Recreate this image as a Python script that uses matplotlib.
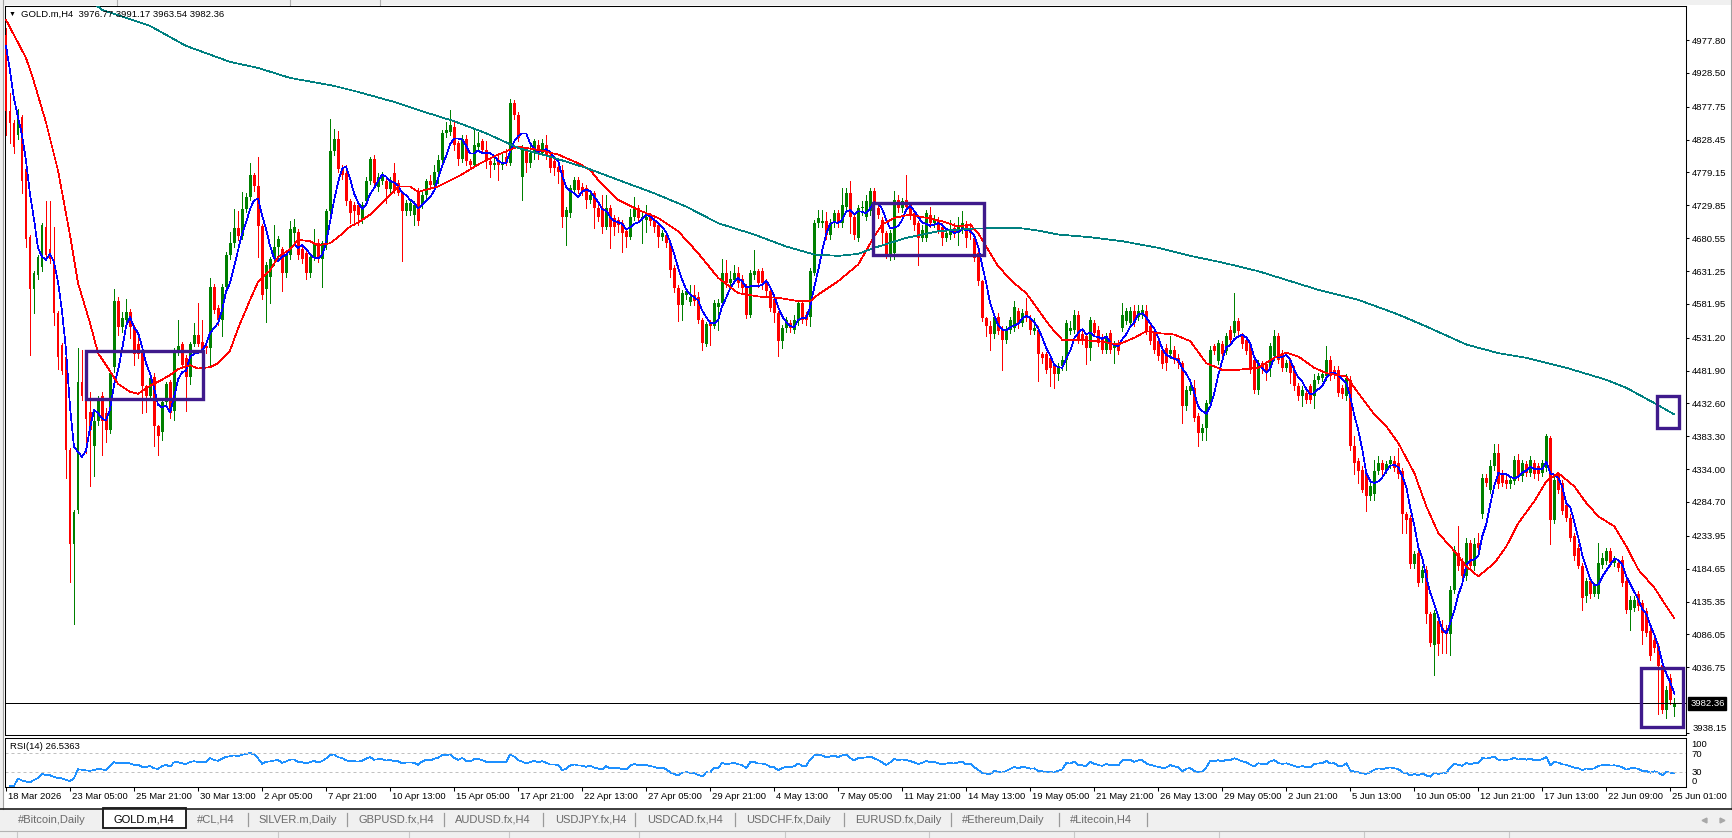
import numpy as np
import pandas as pd
import matplotlib
matplotlib.use("Agg")
import matplotlib.pyplot as plt
from matplotlib.patches import Rectangle

plt.rcParams['font.family'] = ['Liberation Sans', 'DejaVu Sans']

symbol_header = "GOLD.m,H4  3976.77 3991.17 3963.54 3982.36"
rsi_header = "RSI(14) 26.5363"
last_price = 3982.36

# H4 candles (oldest first)
opens = [4985, 4872, 4854, 4836, 4863, 4785, 4682, 4604, 4625, 4637,
         4698, 4664, 4646, 4568, 4520, 4502, 4363, 4221, 4272, 4464,
         4444, 4420, 4369, 4406, 4444, 4418, 4392, 4487, 4587, 4547,
         4558, 4570, 4547, 4521, 4510, 4458, 4444, 4472, 4398, 4390,
         4435, 4464, 4421, 4510, 4521, 4501, 4472, 4521, 4535, 4524,
         4518, 4515, 4607, 4576, 4558, 4607, 4656, 4673, 4696, 4684,
         4725, 4742, 4776, 4759, 4699, 4604, 4622, 4649, 4667, 4664,
         4628, 4655, 4688, 4690, 4664, 4658, 4628, 4652, 4673, 4649,
         4673, 4722, 4812, 4830, 4785, 4779, 4737, 4730, 4730, 4710,
         4737, 4767, 4800, 4758, 4767, 4767, 4755, 4779, 4764, 4749,
         4722, 4722, 4716, 4752, 4730, 4745, 4766, 4760, 4780, 4798,
         4838, 4840, 4848, 4823, 4800, 4830, 4796, 4791, 4818, 4826,
         4813, 4796, 4791, 4796, 4791, 4803, 4793, 4883, 4866, 4773,
         4811, 4793, 4808, 4820, 4808, 4820, 4806, 4796, 4788, 4783,
         4713, 4718, 4753, 4768, 4758, 4756, 4738, 4748, 4726, 4726,
         4698, 4726, 4711, 4708, 4703, 4691, 4683, 4713, 4726, 4711,
         4708, 4713, 4708, 4700, 4683, 4686, 4673, 4636, 4606, 4581,
         4596, 4585, 4596, 4593, 4558, 4521, 4553, 4548, 4578, 4583,
         4628, 4613, 4618, 4628, 4620, 4608, 4566, 4626, 4631, 4631,
         4616, 4601, 4590, 4568, 4526, 4546, 4553, 4543, 4556, 4583,
         4565, 4563, 4628, 4703, 4703, 4706, 4686, 4703, 4718, 4703,
         4728, 4748, 4713, 4681, 4726, 4713, 4721, 4751, 4726, 4708,
         4688, 4653, 4658, 4738, 4726, 4738, 4731, 4718, 4703, 4681,
         4681, 4716, 4703, 4708, 4698, 4681, 4686, 4696, 4688, 4693,
         4701, 4693, 4681, 4658, 4616, 4561, 4548, 4536, 4563, 4543,
         4528, 4543, 4546, 4571, 4553, 4571, 4561, 4541, 4543, 4506,
         4506, 4501, 4488, 4476, 4488, 4498, 4541, 4543, 4566, 4536,
         4533, 4516, 4553, 4543, 4531, 4513, 4538, 4516, 4523, 4546,
         4556, 4553, 4571, 4563, 4566, 4571, 4548, 4541, 4526, 4513,
         4516, 4506, 4513, 4501, 4493, 4428, 4451, 4455, 4413, 4388,
         4396, 4431, 4518, 4496, 4521, 4511, 4543, 4538, 4556, 4533,
         4528, 4521, 4498, 4453, 4493, 4491, 4486, 4503, 4533, 4508,
         4486, 4496, 4483, 4458, 4443, 4448, 4458, 4443, 4468, 4471,
         4473, 4498, 4483, 4483, 4455, 4443, 4468, 4368, 4346, 4333,
         4328, 4293, 4296, 4331, 4343, 4333, 4341, 4346, 4343, 4331,
         4266, 4261, 4191, 4208, 4170, 4183, 4116, 4070, 4106, 4095,
         4093, 4086, 4153, 4208, 4196, 4173, 4223, 4188, 4223, 4266,
         4321, 4303, 4338, 4358, 4328, 4318, 4311, 4316, 4348, 4323,
         4341, 4328, 4343, 4338, 4328, 4336, 4381, 4258, 4325, 4313,
         4280, 4261, 4233, 4216, 4188, 4143, 4166, 4146, 4146, 4190,
         4196, 4211, 4193, 4193, 4198, 4166, 4123, 4126, 4146, 4133,
         4121, 4091, 4078, 4068, 4040, 3973, 4021, 3976.77]

highs = [4996, 4899, 4858, 4875, 4866, 4788, 4685, 4632, 4655, 4704,
         4737, 4737, 4698, 4571, 4523, 4505, 4366, 4273, 4515, 4512,
         4449, 4449, 4421, 4444, 4449, 4425, 4483, 4604, 4592, 4570,
         4590, 4575, 4550, 4535, 4515, 4460, 4478, 4478, 4400, 4440,
         4465, 4468, 4515, 4558, 4525, 4505, 4525, 4553, 4584, 4558,
         4522, 4621, 4612, 4580, 4612, 4660, 4690, 4725, 4722, 4750,
         4748, 4793, 4779, 4802, 4702, 4645, 4652, 4700, 4684, 4667,
         4660, 4707, 4710, 4695, 4668, 4662, 4656, 4694, 4680, 4676,
         4725, 4860, 4845, 4842, 4790, 4791, 4740, 4735, 4733, 4735,
         4772, 4803, 4805, 4778, 4780, 4772, 4772, 4794, 4768, 4752,
         4738, 4740, 4736, 4756, 4750, 4770, 4775, 4790, 4805, 4843,
         4855, 4873, 4855, 4826, 4835, 4835, 4800, 4843, 4840, 4830,
         4826, 4800, 4805, 4805, 4810, 4815, 4890, 4888, 4870, 4820,
         4816, 4820, 4830, 4828, 4830, 4836, 4812, 4800, 4795, 4790,
         4728, 4760, 4773, 4773, 4763, 4760, 4750, 4752, 4730, 4746,
         4745, 4730, 4715, 4713, 4708, 4695, 4725, 4743, 4730, 4720,
         4730, 4718, 4712, 4705, 4693, 4690, 4676, 4640, 4610, 4603,
         4605, 4610, 4610, 4600, 4560, 4555, 4557, 4588, 4590, 4650,
         4648, 4632, 4640, 4638, 4626, 4612, 4633, 4663, 4635, 4636,
         4620, 4605, 4595, 4572, 4550, 4562, 4558, 4565, 4588, 4588,
         4570, 4636, 4708, 4723, 4723, 4720, 4710, 4723, 4723, 4756,
         4756, 4766, 4716, 4731, 4736, 4745, 4756, 4756, 4733, 4712,
         4692, 4693, 4751, 4745, 4741, 4776, 4735, 4722, 4706, 4700,
         4723, 4728, 4715, 4713, 4703, 4693, 4708, 4703, 4713, 4721,
         4706, 4703, 4686, 4663, 4618, 4563, 4556, 4568, 4568, 4548,
         4548, 4563, 4586, 4576, 4574, 4591, 4565, 4561, 4548, 4510,
         4510, 4506, 4493, 4493, 4503, 4558, 4556, 4573, 4571, 4541,
         4538, 4563, 4558, 4548, 4536, 4538, 4543, 4526, 4528, 4583,
         4576, 4578, 4581, 4581, 4581, 4581, 4553, 4546, 4531, 4518,
         4521, 4533, 4518, 4506, 4496, 4458, 4463, 4468, 4418, 4401,
         4438, 4518, 4521, 4528, 4526, 4538, 4548, 4598, 4561, 4538,
         4533, 4525, 4503, 4498, 4496, 4496, 4523, 4543, 4538, 4513,
         4498, 4501, 4488, 4463, 4458, 4453, 4461, 4476, 4478, 4481,
         4518, 4503, 4488, 4488, 4460, 4476, 4473, 4383, 4351, 4338,
         4333, 4313, 4348, 4353, 4348, 4346, 4353, 4353, 4366, 4336,
         4270, 4265, 4211, 4218, 4188, 4188, 4120, 4123, 4111, 4108,
         4100, 4158, 4218, 4248, 4200, 4231, 4228, 4231, 4238, 4326,
         4326, 4348, 4371, 4371, 4333, 4323, 4323, 4353, 4356, 4348,
         4346, 4353, 4348, 4343, 4348, 4386, 4383, 4323, 4330, 4318,
         4285, 4266, 4238, 4221, 4193, 4171, 4171, 4163, 4223, 4208,
         4216, 4216, 4203, 4198, 4203, 4171, 4143, 4143, 4151, 4138,
         4126, 4095, 4083, 4073, 4043, 4008, 4026, 3991.17]

lows = [4836, 4824, 4809, 4830, 4749, 4667, 4505, 4568, 4620, 4632,
        4650, 4644, 4550, 4484, 4476, 4321, 4164, 4101, 4268, 4438,
        4358, 4309, 4323, 4400, 4355, 4375, 4388, 4480, 4535, 4540,
        4553, 4530, 4490, 4500, 4418, 4420, 4438, 4369, 4355, 4378,
        4430, 4410, 4407, 4505, 4485, 4421, 4461, 4518, 4518, 4508,
        4508, 4487, 4568, 4550, 4533, 4600, 4650, 4668, 4678, 4680,
        4720, 4738, 4752, 4653, 4590, 4555, 4583, 4640, 4650, 4601,
        4622, 4650, 4670, 4650, 4643, 4619, 4622, 4648, 4645, 4607,
        4665, 4718, 4805, 4780, 4770, 4730, 4704, 4700, 4700, 4704,
        4732, 4762, 4758, 4752, 4762, 4734, 4750, 4748, 4745, 4646,
        4716, 4716, 4700, 4700, 4726, 4740, 4755, 4755, 4763, 4795,
        4833, 4835, 4813, 4790, 4795, 4790, 4786, 4788, 4813, 4808,
        4786, 4773, 4785, 4768, 4785, 4790, 4790, 4860, 4826, 4738,
        4780, 4788, 4800, 4800, 4805, 4800, 4780, 4775, 4763, 4698,
        4670, 4713, 4750, 4748, 4745, 4726, 4733, 4696, 4706, 4688,
        4695, 4666, 4685, 4690, 4660, 4668, 4680, 4708, 4705, 4673,
        4690, 4700, 4690, 4668, 4678, 4668, 4623, 4600, 4556, 4558,
        4590, 4580, 4580, 4553, 4513, 4518, 4520, 4545, 4543, 4580,
        4608, 4605, 4613, 4608, 4600, 4561, 4562, 4620, 4608, 4605,
        4595, 4571, 4555, 4503, 4516, 4540, 4540, 4538, 4550, 4553,
        4550, 4548, 4625, 4698, 4698, 4680, 4680, 4698, 4698, 4698,
        4723, 4688, 4680, 4676, 4716, 4708, 4716, 4726, 4711, 4673,
        4651, 4648, 4650, 4720, 4720, 4723, 4710, 4693, 4641, 4676,
        4676, 4698, 4698, 4688, 4671, 4676, 4680, 4683, 4671, 4688,
        4668, 4680, 4646, 4610, 4556, 4533, 4513, 4530, 4536, 4483,
        4523, 4538, 4541, 4546, 4548, 4556, 4536, 4536, 4466, 4493,
        4478, 4458, 4456, 4468, 4483, 4483, 4536, 4538, 4523, 4521,
        4491, 4498, 4533, 4518, 4508, 4508, 4508, 4493, 4506, 4541,
        4551, 4548, 4548, 4558, 4561, 4536, 4521, 4508, 4498, 4486,
        4483, 4501, 4493, 4486, 4403, 4423, 4446, 4406, 4368, 4378,
        4378, 4428, 4506, 4491, 4501, 4506, 4523, 4533, 4536, 4516,
        4506, 4478, 4448, 4446, 4478, 4468, 4473, 4498, 4493, 4481,
        4481, 4463, 4453, 4438, 4428, 4433, 4433, 4426, 4463, 4466,
        4468, 4468, 4471, 4443, 4440, 4438, 4363, 4326, 4313, 4300,
        4271, 4288, 4288, 4326, 4326, 4328, 4336, 4331, 4321, 4238,
        4238, 4186, 4186, 4158, 4165, 4103, 4068, 4025, 4055, 4058,
        4058, 4055, 4148, 4183, 4168, 4168, 4183, 4183, 4211, 4261,
        4308, 4298, 4333, 4306, 4308, 4306, 4306, 4311, 4318, 4316,
        4323, 4323, 4321, 4318, 4323, 4331, 4221, 4253, 4298, 4266,
        4256, 4226, 4198, 4186, 4123, 4135, 4141, 4143, 4141, 4186,
        4191, 4188, 4188, 4181, 4158, 4118, 4093, 4121, 4123, 4071,
        4083, 4048, 4060, 3966, 3968, 3961, 3981, 3963.54]

closes = [4872, 4854, 4818, 4866, 4767, 4679, 4604, 4628, 4652, 4701,
          4655, 4649, 4568, 4502, 4481, 4363, 4221, 4270, 4464, 4444,
          4409, 4392, 4406, 4438, 4406, 4392, 4478, 4587, 4547, 4561,
          4570, 4547, 4507, 4507, 4458, 4444, 4470, 4398, 4384, 4435,
          4461, 4418, 4510, 4518, 4490, 4472, 4521, 4535, 4521, 4513,
          4515, 4607, 4573, 4558, 4607, 4656, 4673, 4696, 4684, 4725,
          4742, 4776, 4759, 4699, 4596, 4641, 4649, 4667, 4679, 4628,
          4655, 4694, 4698, 4655, 4649, 4628, 4652, 4673, 4649, 4673,
          4722, 4812, 4830, 4785, 4776, 4737, 4719, 4722, 4716, 4730,
          4767, 4800, 4764, 4773, 4773, 4755, 4767, 4752, 4749, 4722,
          4734, 4734, 4731, 4707, 4745, 4766, 4760, 4780, 4798, 4838,
          4843, 4850, 4820, 4800, 4830, 4796, 4791, 4820, 4823, 4813,
          4796, 4791, 4793, 4791, 4795, 4793, 4883, 4866, 4831, 4816,
          4793, 4808, 4826, 4808, 4823, 4806, 4786, 4786, 4780, 4713,
          4723, 4756, 4768, 4753, 4751, 4738, 4746, 4726, 4713, 4698,
          4726, 4698, 4698, 4701, 4688, 4683, 4713, 4726, 4711, 4713,
          4713, 4706, 4698, 4683, 4688, 4673, 4633, 4606, 4581, 4598,
          4601, 4593, 4586, 4558, 4523, 4551, 4548, 4583, 4583, 4628,
          4613, 4620, 4628, 4613, 4606, 4566, 4628, 4631, 4613, 4613,
          4601, 4576, 4568, 4526, 4546, 4558, 4546, 4558, 4583, 4558,
          4558, 4631, 4703, 4711, 4706, 4686, 4703, 4718, 4703, 4731,
          4748, 4713, 4686, 4726, 4728, 4736, 4751, 4731, 4716, 4688,
          4653, 4688, 4738, 4726, 4736, 4728, 4716, 4701, 4681, 4693,
          4718, 4703, 4708, 4693, 4681, 4688, 4693, 4688, 4698, 4703,
          4681, 4688, 4651, 4616, 4561, 4548, 4536, 4563, 4541, 4528,
          4543, 4558, 4578, 4553, 4569, 4561, 4543, 4546, 4506, 4501,
          4483, 4486, 4476, 4488, 4498, 4553, 4546, 4566, 4528, 4526,
          4516, 4558, 4538, 4523, 4513, 4533, 4513, 4521, 4511, 4566,
          4571, 4571, 4553, 4571, 4573, 4541, 4526, 4513, 4503, 4491,
          4493, 4513, 4498, 4493, 4428, 4453, 4458, 4411, 4388, 4396,
          4433, 4513, 4511, 4523, 4506, 4533, 4528, 4556, 4541, 4521,
          4511, 4483, 4453, 4493, 4486, 4478, 4518, 4533, 4498, 4486,
          4493, 4478, 4458, 4443, 4453, 4438, 4438, 4468, 4473, 4476,
          4498, 4473, 4476, 4448, 4446, 4471, 4368, 4343, 4331, 4303,
          4293, 4308, 4331, 4343, 4333, 4341, 4348, 4336, 4326, 4266,
          4258, 4191, 4206, 4163, 4183, 4116, 4073, 4118, 4071, 4088,
          4086, 4153, 4213, 4188, 4173, 4223, 4188, 4221, 4216, 4321,
          4313, 4338, 4358, 4311, 4313, 4311, 4318, 4348, 4323, 4343,
          4328, 4348, 4326, 4326, 4343, 4383, 4258, 4318, 4303, 4271,
          4261, 4231, 4203, 4188, 4141, 4166, 4146, 4158, 4193, 4201,
          4211, 4193, 4198, 4186, 4163, 4123, 4138, 4138, 4128, 4091,
          4088, 4053, 4066, 4038, 3973, 4003, 3988, 3982.36]

# blue fast MA: first bars (history before the window)
blue_ma_head = [4969, 4932, 4890, 4862]
blue_ma_period = 5

# red moving average, read at bar indices
red_ma_bar = [0, 5, 7, 10, 13, 16, 18, 21, 23, 26,
              28, 31, 33, 36, 38, 41, 43, 46, 48, 51,
              53, 56, 58, 61, 63, 66, 68, 71, 73, 76,
              78, 81, 83, 86, 88, 91, 93, 96, 98, 101,
              103, 108, 113, 118, 123, 128, 133, 138, 143, 146,
              148, 153, 158, 163, 168, 173, 178, 183, 188, 193,
              198, 201, 203, 208, 213, 217, 219, 222, 226, 230,
              234, 238, 241, 243, 246, 248, 252, 255, 258, 261,
              264, 268, 273, 278, 282, 285, 288, 292, 296, 300,
              304, 308, 313, 317, 320, 323, 327, 330, 335, 338,
              342, 345, 348, 352, 355, 358, 362, 365, 368, 372,
              375, 378, 382, 385, 388, 392, 395, 398, 402, 405,
              408, 412, 415, 417]
red_ma_val = [5008, 4951, 4915, 4854, 4782, 4685, 4613, 4553, 4508, 4481,
              4462, 4450, 4447, 4459, 4465, 4475, 4484, 4490, 4485, 4487,
              4493, 4512, 4545, 4588, 4615, 4632, 4652, 4664, 4678, 4676,
              4670, 4673, 4682, 4698, 4704, 4716, 4728, 4746, 4758, 4758,
              4750, 4758, 4773, 4791, 4806, 4818, 4813, 4806, 4793, 4783,
              4768, 4738, 4723, 4711, 4691, 4658, 4621, 4598, 4593, 4591,
              4586, 4586, 4596, 4616, 4641, 4683, 4701, 4711, 4716, 4711,
              4706, 4698, 4701, 4688, 4658, 4638, 4613, 4598, 4573, 4548,
              4528, 4528, 4526, 4521, 4531, 4541, 4538, 4536, 4526, 4493,
              4483, 4483, 4486, 4501, 4509, 4503, 4486, 4478, 4473, 4448,
              4416, 4398, 4373, 4328, 4278, 4238, 4211, 4188, 4173, 4193,
              4218, 4253, 4286, 4316, 4328, 4308, 4283, 4263, 4248, 4218,
              4183, 4156, 4128, 4110]

# teal long moving average, read at bar indices
teal_ma_bar = [21, 24, 36, 45, 56, 63, 71, 82, 88, 97,
               104, 112, 120, 128, 137, 145, 153, 162, 170, 178,
               187, 195, 202, 208, 213, 217, 225, 233, 242, 253,
               258, 263, 271, 279, 288, 296, 304, 313, 328, 338,
               348, 355, 365, 373, 380, 390, 400, 405, 412, 417]
teal_ma_val = [5038, 5023, 4999, 4969, 4945, 4936, 4921, 4909, 4900, 4885,
               4871, 4856, 4838, 4816, 4801, 4786, 4768, 4748, 4728, 4703,
               4686, 4668, 4656, 4654, 4657, 4666, 4681, 4691, 4695, 4696,
               4692, 4686, 4682, 4676, 4666, 4654, 4644, 4631, 4603, 4588,
               4566, 4548, 4521, 4508, 4501, 4486, 4468, 4456, 4433, 4416]

# highlight rectangles drawn on the chart (bar from, bar to, price low, price high)
highlight_from = [20.0, 216.8, 412.7, 408.7]
highlight_to = [49.2, 244.5, 418.1, 419.1]
highlight_low = [4439, 4656, 4396, 3947]
highlight_high = [4511, 4734, 4443, 4035]

date_labels = ["18 Mar 2026", "23 Mar 05:00", "25 Mar 21:00", "30 Mar 13:00",
               "2 Apr 05:00", "7 Apr 21:00", "10 Apr 13:00", "15 Apr 05:00",
               "17 Apr 21:00", "22 Apr 13:00", "27 Apr 05:00", "29 Apr 21:00",
               "4 May 13:00", "7 May 05:00", "11 May 21:00", "14 May 13:00",
               "19 May 05:00", "21 May 21:00", "26 May 13:00", "29 May 05:00",
               "2 Jun 21:00", "5 Jun 13:00", "10 Jun 05:00", "12 Jun 21:00",
               "17 Jun 13:00", "22 Jun 09:00", "25 Jun 01:00"]
date_step = 16

price_ticks = [4977.80, 4928.50, 4877.75, 4828.45, 4779.15, 4729.85, 4680.55,
               4631.25, 4581.95, 4531.20, 4481.90, 4432.60, 4383.30, 4334.00,
               4284.70, 4233.95, 4184.65, 4135.35, 4086.05, 4036.75, 3938.15]

tab_names = ["#Bitcoin,Daily", "GOLD.m,H4", "#CL,H4", "SILVER.m,Daily",
             "GBPUSD.fx,H4", "AUDUSD.fx,H4", "USDJPY.fx,H4", "USDCAD.fx,H4",
             "USDCHF.fx,Daily", "EURUSD.fx,Daily", "#Ethereum,Daily", "#Litecoin,H4"]
active_tab = 1

# ---------------------------------------------------------------- layout
W, H = 1733, 838
fig = plt.figure(figsize=(W / 100, H / 100), dpi=100, facecolor='white')


def frac(x0, y0, x1, y1):
    return [x0 / W, 1 - y1 / H, (x1 - x0) / W, (y1 - y0) / H]


FS = 6.8
LW = 0.5

# window chrome (pixel coordinates)
bg = fig.add_axes([0, 0, 1, 1], zorder=-1)
bg.set_xlim(0, W)
bg.set_ylim(H, 0)
bg.axis('off')
bg.add_patch(Rectangle((0, 0), W, 5, fc='#f0f0f0', ec='none'))
for sx in [117, 290, 380]:
    bg.plot([sx, sx], [0, 5], color='#b0b0b0', lw=0.8)
bg.add_patch(Rectangle((0, 0), 3.5, 809, fc='#f0f0f0', ec='none'))
bg.plot([3.5, 3.5], [0, 809], color='#a0a0a0', lw=0.8)
bg.plot([1731.5, 1731.5], [0, 809], color='#a0a0a0', lw=0.8)
bg.add_patch(Rectangle((0, 809), W, 29, fc='#f0f0f0', ec='none'))
bg.plot([0, W], [809, 809], color='#1e1e1e', lw=1.2)
bg.plot([0, W], [830.5, 830.5], color='#b4b4b4', lw=0.8)
for sx in [17, 278, 409, 509, 639, 785, 929, 1074, 1219, 1364, 1509]:
    bg.plot([sx, sx], [832, 838], color='#c8c8c8', lw=0.8)

tab_x = [18, 114, 197, 258, 359, 455, 555, 647, 746.5, 855.5, 961.5, 1070]
for sx in [248, 347, 444, 543, 635.5, 735, 844, 951, 1059, 1147]:
    bg.plot([sx, sx], [813, 826], color='#9a9a9a', lw=0.9)
bg.add_patch(Rectangle((103, 808), 83, 20, fc='white', ec='#111111', lw=1.3))
for k, name in enumerate(tab_names):
    bg.text(tab_x[k], 819.5, name, fontsize=8.0, va='center', ha='left',
            color='black' if k == active_tab else '#6a6a6a')
bg.plot([1704], [819.5], marker='<', ms=3.5, color='#a8a8a8')
bg.plot([1722], [819.5], marker='>', ms=3.5, color='#a8a8a8')

# ---------------------------------------------------------------- price chart
ax = fig.add_axes(frac(5, 6, 1686, 734.5))
rsi_ax = fig.add_axes(frac(5, 737.5, 1686, 787))

o = np.array(opens, float)
h = np.array(highs, float)
lo = np.array(lows, float)
c = np.array(closes, float)
assert len(o) == len(h) == len(lo) == len(c)
h = np.maximum(h, np.maximum(o, c))
lo = np.minimum(lo, np.minimum(o, c))
x = np.arange(len(c))
col = np.where(c >= o, '#008000', '#ff0000')

ax.vlines(x, lo, h, colors=col, linewidth=0.72, antialiased=False, zorder=2)
ax.bar(x, np.maximum(np.abs(c - o), 1.5), bottom=np.minimum(o, c), width=0.74,
       color=col, linewidth=0, antialiased=False, zorder=3)

blue_ma = pd.Series(c).rolling(blue_ma_period).mean()
blue_ma.iloc[:len(blue_ma_head)] = blue_ma_head
ax.plot(x, blue_ma, color='#0000ff', lw=LW, antialiased=False, zorder=5)
ax.plot(red_ma_bar, red_ma_val, color='#ff0000', lw=LW, antialiased=False, zorder=5)
ax.plot(teal_ma_bar, teal_ma_val, color='#008080', lw=LW, antialiased=False, zorder=5)

for b0, b1, p0, p1 in zip(highlight_from, highlight_to, highlight_low, highlight_high):
    ax.add_patch(Rectangle((b0, p0), b1 - b0, p1 - p0, fill=False,
                           ec='#3f1a8c', lw=2.4, zorder=6))

ax.axhline(last_price, color='black', lw=0.72, zorder=4)

xlim = (-0.25, 419.9)
ax.set_xlim(*xlim)
ax.set_ylim(3935.8, 5028.9)
ax.set_xticks([])
ax.yaxis.tick_right()
ax.set_yticks(price_ticks)
ax.set_yticklabels([f"{v:.2f}" for v in price_ticks])
ax.tick_params(axis='y', direction='out', length=2.2, width=0.75, pad=2.2,
               labelsize=FS)
ax.get_yticklabels()[-1].set_verticalalignment('bottom')
ax.text(1.0025, last_price, f"{last_price:.2f}", transform=ax.get_yaxis_transform(),
        ha='left', va='center', fontsize=FS, color='white', zorder=10,
        bbox=dict(boxstyle='square,pad=0.2', fc='black', ec='black'))

# ---------------------------------------------------------------- RSI panel
delta = pd.Series(c).diff()
gain = delta.clip(lower=0).ewm(alpha=1 / 14, adjust=False).mean()
loss = (-delta.clip(upper=0)).ewm(alpha=1 / 14, adjust=False).mean()
rsi = 100 - 100 / (1 + gain / loss)

rsi_ax.plot(x, rsi, color='#1e90ff', lw=LW, antialiased=False)
for lvl in (70, 30):
    rsi_ax.axhline(lvl, color='#c0c0c0', lw=0.72, ls=(0, (3, 3)))
rsi_ax.set_xlim(*xlim)
rsi_ax.set_ylim(-2.4, 104.5)
rsi_ax.yaxis.tick_right()
rsi_ax.set_yticks([90.6, 70, 30, 11.2])
rsi_ax.set_yticklabels(['100', '70', '30', '0'])
rsi_ax.tick_params(axis='y', length=0, pad=4, labelsize=FS)
date_pos = [date_step * k for k in range(len(date_labels))]
rsi_ax.set_xticks(date_pos)
rsi_ax.set_xticklabels([])
rsi_ax.tick_params(axis='x', direction='out', length=3, width=0.75)
for p, lab in zip(date_pos, date_labels):
    rsi_ax.text(p + 0.4, -0.2, lab, transform=rsi_ax.get_xaxis_transform(),
                ha='left', va='center', fontsize=FS)

for a in (ax, rsi_ax):
    for s in a.spines.values():
        s.set_linewidth(0.75)

# header texts
fig.text(9 / W, 1 - 14.5 / H, "▼", fontsize=5, va='center', ha='left')
fig.text(21 / W, 1 - 14.5 / H, symbol_header, fontsize=FS, va='center', ha='left')
fig.text(9.5 / W, 1 - 746.5 / H, rsi_header, fontsize=FS, va='center', ha='left')

fig.savefig('out.png', dpi=100, facecolor='white')
